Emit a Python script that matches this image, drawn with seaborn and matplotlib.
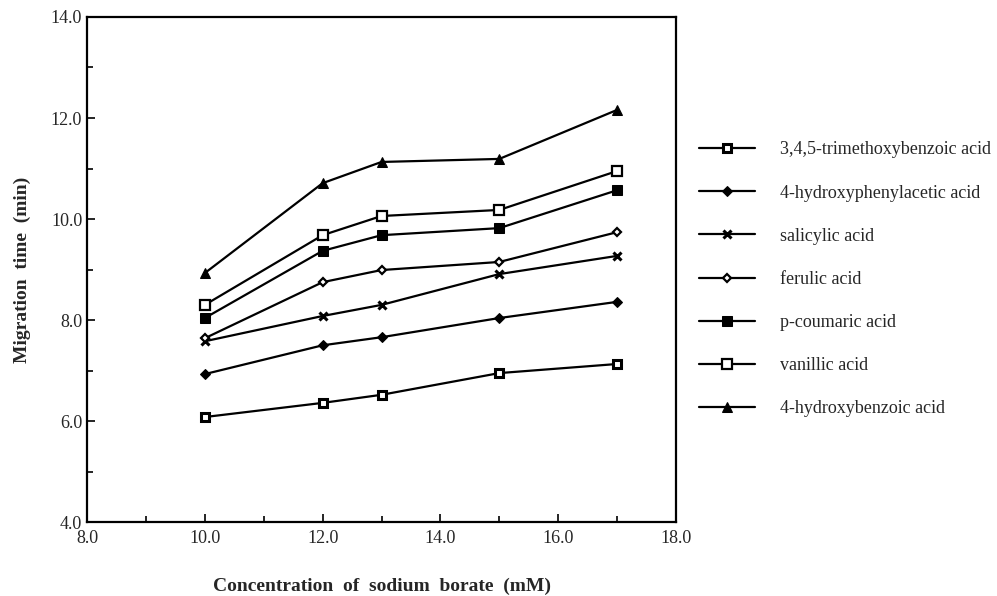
import matplotlib
matplotlib.use("Agg")
import matplotlib.pyplot as plt
import seaborn as sns
import numpy as np
import pandas as pd
from matplotlib.ticker import MultipleLocator, FormatStrFormatter

sns.set_style("ticks")
plt.rcParams['font.family'] = ['Liberation Serif', 'DejaVu Serif']

concentration = [10.0, 12.0, 13.0, 15.0, 17.0]
names = ["3,4,5-trimethoxybenzoic acid", "4-hydroxyphenylacetic acid", "salicylic acid",
         "ferulic acid", "p-coumaric acid", "vanillic acid", "4-hydroxybenzoic acid"]
trimethoxybenzoic = [6.08, 6.36, 6.52, 6.95, 7.13]
hydroxyphenylacetic = [6.93, 7.50, 7.66, 8.04, 8.36]
salicylic = [7.58, 8.08, 8.30, 8.91, 9.27]
ferulic = [7.64, 8.75, 8.99, 9.15, 9.74]
p_coumaric = [8.04, 9.37, 9.68, 9.82, 10.57]
vanillic = [8.30, 9.68, 10.06, 10.18, 10.95]
hydroxybenzoic = [8.93, 10.71, 11.13, 11.19, 12.16]
series = [trimethoxybenzoic, hydroxyphenylacetic, salicylic, ferulic, p_coumaric, vanillic, hydroxybenzoic]

styles = [
    dict(marker='s', markersize=5.5, markerfacecolor='white', markeredgecolor='black', markeredgewidth=2.2),
    dict(marker='D', markersize=5, markerfacecolor='black', markeredgecolor='black'),
    dict(marker='x', markersize=6, markeredgecolor='black', markeredgewidth=2.2),
    dict(marker='D', markersize=4.5, markerfacecolor='white', markeredgecolor='black', markeredgewidth=1.6),
    dict(marker='s', markersize=6.5, markerfacecolor='black', markeredgecolor='black'),
    dict(marker='s', markersize=6.5, markerfacecolor='white', markeredgecolor='black', markeredgewidth=1.6),
    dict(marker='^', markersize=6.5, markerfacecolor='black', markeredgecolor='black'),
]

fig = plt.figure(figsize=(9.97, 5.96), dpi=100)
ax = fig.add_axes([0.0873, 0.124, 0.5907, 0.8475])

for name, vals, st in zip(names, series, styles):
    df = pd.DataFrame({"x": concentration, "y": vals})
    sns.lineplot(data=df, x="x", y="y", ax=ax, color='black', linewidth=1.6,
                 label=name, **st)

ax.set_xlim(8, 18)
ax.set_ylim(4, 14)
ax.xaxis.set_major_locator(MultipleLocator(2))
ax.xaxis.set_minor_locator(MultipleLocator(1))
ax.yaxis.set_major_locator(MultipleLocator(2))
ax.yaxis.set_minor_locator(MultipleLocator(1))
ax.xaxis.set_major_formatter(FormatStrFormatter('%.1f'))
ax.yaxis.set_major_formatter(FormatStrFormatter('%.1f'))
ax.tick_params(which='both', direction='in', color='black', labelsize=13, width=1.2)
ax.tick_params(which='major', length=6)
ax.tick_params(which='minor', length=4)
ax.tick_params(axis='x', pad=6)
for s in ax.spines.values():
    s.set_visible(True)
    s.set_linewidth(1.6)
    s.set_color('black')

ax.set_xlabel("Concentration  of  sodium  borate  (mM)", fontsize=14, fontweight='bold', labelpad=22)
ax.set_ylabel("Migration  time  (min)", fontsize=14, fontweight='bold', labelpad=14)

handles, labels = ax.get_legend_handles_labels()
if ax.legend_:
    ax.legend_.remove()
fig.legend(handles, labels, loc='upper left', bbox_to_anchor=(0.685, 0.79), frameon=False,
           fontsize=13, handlelength=3.1, handletextpad=1.4, labelspacing=1.45)

fig.savefig("out.png", dpi=100, facecolor='white')
